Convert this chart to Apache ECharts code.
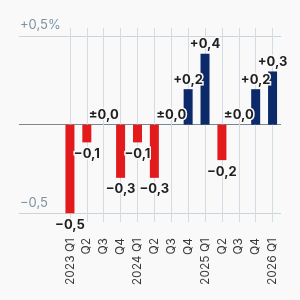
<!DOCTYPE html>
<html>
<head>
<meta charset="utf-8">
<script src="https://cdn.jsdelivr.net/npm/echarts@6/dist/echarts.min.js"></script>
<style>
html,body{margin:0;padding:0;background:#f9f9f9;}
#c{width:300px;height:300px;}
</style>
</head>
<body>
<div id="c"></div>
<script>
const categories = ['2023 Q1','Q2','Q3','Q4','2024 Q1','Q2','Q3','Q4','2025 Q1','Q2','Q3','Q4','2026 Q1'];
const values = [-0.5,-0.1,0.0,-0.3,-0.1,-0.3,0.0,0.2,0.4,-0.2,0.0,0.2,0.3];
const yTickLabels = {'-0.5':'\u22120,5','0':'','0.5':'+0,5%'};

const RED = '#e31a1c', NAVY = '#0c2a6a', BG = '#f9f9f9';
function fmt(v){
  const s = Math.abs(v).toFixed(1).replace('.', ',');
  if (v > 0) return '+' + s;
  if (v < 0) return '\u2212' + s;
  return '\u00b1' + s;
}
const top0 = 36, bottom0 = 300 - 213.3;
const chart = echarts.init(document.getElementById('c'), null, {renderer:'canvas'});
chart.setOption({
  backgroundColor: BG,
  animation: false,
  textStyle: {fontFamily: 'Inter'},
  grid: [
    {left: 61.5, right: 19, top: top0, bottom: bottom0},
    {left: 19, right: 19, top: top0, bottom: bottom0},
    {left: 61.5, right: 19, top: 28, bottom: 78}
  ],
  xAxis: [
    {type: 'category', gridIndex: 0, data: categories, show: false},
    {type: 'value', gridIndex: 1, show: false},
    {
      type: 'category', gridIndex: 2, data: categories,
      axisLine: {show: true, lineStyle: {color: 'rgba(0,0,0,0)'}},
      axisTick: {show: true, alignWithLabel: true, inside: true, length: 194, lineStyle: {color: '#d3dce2', width: 1}},
      axisLabel: {rotate: 90, margin: 16, fontSize: 12, color: '#3a3a3a', fontFamily: 'Inter', interval: 0},
      splitLine: {show: false}
    }
  ],
  yAxis: [
    {type: 'value', gridIndex: 0, min: -0.5, max: 0.5, show: false},
    {
      type: 'value', gridIndex: 1, min: -0.5, max: 0.5, interval: 0.5,
      axisLine: {show: false}, axisTick: {show: false},
      axisLabel: {
        inside: true, margin: 1, fontSize: 13, color: '#7d92a2', fontFamily: 'Inter',
        verticalAlign: 'bottom', padding: [0,0,4,0],
        formatter: v => yTickLabels[String(Math.round(v*10)/10)] ?? ''
      },
      splitLine: {show: true, lineStyle: {color: ['#c9d4dc', '#7c888e', '#c9d4dc'], width: 1}}
    },
    {type: 'value', gridIndex: 2, show: false}
  ],
  series: [{
    type: 'bar', xAxisIndex: 0, yAxisIndex: 0,
    barWidth: 9,
    z: 3,
    data: values.map(v => ({
      value: v,
      itemStyle: {color: v < 0 ? RED : NAVY},
      label: {position: v < 0 ? 'bottom' : 'top', distance: v < 0 ? 5 : 3}
    })),
    label: {
      show: true, fontSize: 13, fontWeight: 'bold', color: '#1f1f1f', fontFamily: 'Inter',
      textBorderColor: BG, textBorderWidth: 3,
      formatter: p => fmt(p.value)
    }
  }]
});
</script>
</body>
</html>
